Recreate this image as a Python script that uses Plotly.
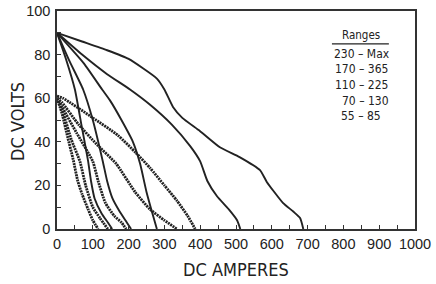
import plotly.graph_objects as go

# Solid curves (max settings) - amps, volts
s1_a = [0, 70, 140, 200, 279, 300, 324, 350, 399, 455, 510, 567, 586, 631, 660, 679, 688]
s1_v = [90, 86, 82, 78, 69, 64, 56, 51, 45, 37.5, 33, 27, 21.6, 12, 8, 5, 0]
s2_a = [0, 70, 140, 204, 260, 320, 372, 400, 420, 447, 480, 503, 512]
s2_v = [90, 80, 71, 64, 57, 48, 38, 31, 22, 15, 9, 4, 0]
s3_a = [0, 75, 126, 148, 180, 212, 232, 250, 265, 279]
s3_v = [90, 76, 64, 59, 50, 40, 30, 17, 8, 0]
s4_a = [0, 35, 73, 100, 128, 140, 155, 175, 195, 207]
s4_v = [90, 77, 64, 50, 31, 22, 14, 8, 3, 0]
s5_a = [0, 25, 50, 68, 87, 95, 105, 125, 142, 154]
s5_v = [90, 78, 64, 48, 31, 22, 14, 7, 3, 0]

# Dotted curves (min settings)
d1_a = [0, 14, 30, 45, 58, 70, 87, 100, 115]
d1_v = [60, 53, 42, 32, 22, 16, 9, 4, 0]
d2_a = [0, 14, 40, 64, 80, 100, 120, 142]
d2_v = [60, 55, 41, 31, 20, 10, 5, 0]
d3_a = [0, 14, 55, 100, 115, 135, 160, 180, 193]
d3_v = [60, 56, 44, 31, 22, 12, 6, 3, 0]
d4_a = [0, 14, 60, 110, 165, 218, 260, 300, 335]
d4_v = [60, 58, 48, 39, 30, 17, 9, 4, 0]
d5_a = [0, 17, 100, 170, 220, 260, 300, 335, 365, 386]
d5_v = [61, 60, 51, 43, 35, 28, 20, 13, 6, 0]

range_labels = ["230 – Max", "170 – 365", "110 – 225", "70 – 130", "55 – 85"]
x_ticks = list(range(0, 1001, 100))
y_ticks = list(range(0, 101, 20))

NARROW = "DejaVu Sans Condensed, Liberation Sans Narrow, sans-serif"
REG = "Liberation Sans, Arial, sans-serif"
INK = "#222222"

fig = go.Figure()
for a, v in [(s1_a, s1_v), (s2_a, s2_v), (s3_a, s3_v), (s4_a, s4_v), (s5_a, s5_v)]:
    fig.add_trace(go.Scatter(x=a, y=v, mode="lines", line=dict(color=INK, width=1.9, shape="spline", smoothing=0.5),
                             showlegend=False, hoverinfo="skip"))
for a, v in [(d1_a, d1_v), (d2_a, d2_v), (d3_a, d3_v), (d4_a, d4_v), (d5_a, d5_v)]:
    fig.add_trace(go.Scatter(x=a, y=v, mode="lines", line=dict(color=INK, width=2.8, dash="2px,0.8px", shape="spline", smoothing=0.5),
                             showlegend=False, hoverinfo="skip"))

# Legend-like annotation
fig.add_annotation(x=849, y=89, text="Ranges", showarrow=False, xref="x", yref="y",
                   font=dict(family=NARROW, size=11.5, color=INK))
fig.add_shape(type="line", x0=768, x1=927, y0=84.9, y1=84.9, xref="x", yref="y",
              line=dict(color=INK, width=1.2))
label_x = [768, 771, 771, 790, 788]
label_y = [80.3, 73.2, 66.1, 58.9, 51.8]
for t, lx, ly in zip(range_labels, label_x, label_y):
    fig.add_annotation(x=lx, y=ly, text=t, showarrow=False, xref="x", yref="y", xanchor="left",
                       font=dict(family=NARROW, size=12, color=INK))

# Axis titles
fig.add_annotation(x=0.5, y=-0.188, xref="paper", yref="paper", text="DC AMPERES", showarrow=False,
                   xanchor="center", yanchor="middle", font=dict(family=NARROW, size=18, color=INK))
fig.add_annotation(x=-0.112, y=0.495, xref="paper", yref="paper", text="DC VOLTS", showarrow=False,
                   textangle=-90, xanchor="center", yanchor="middle", font=dict(family=NARROW, size=18, color=INK))

axis_common = dict(showline=True, linecolor="#333333", linewidth=1.5, mirror=True, ticks="inside",
                   ticklen=4, tickcolor="#333333", showgrid=False, zeroline=False, automargin=False,
                   tickfont=dict(family=REG, size=14.5, color=INK))
fig.update_xaxes(range=[0, 1000], tickvals=x_ticks, ticktext=[str(t) for t in x_ticks],
                 minor=dict(dtick=50, ticks="inside", ticklen=4, tickcolor="#333333"),
                 ticklabelstandoff=1, **axis_common)
fig.update_yaxes(range=[0, 100], tickvals=y_ticks, ticktext=[str(t) for t in y_ticks],
                 minor=dict(dtick=10, ticks="inside", ticklen=4, tickcolor="#333333"),
                 ticklabelstandoff=2, **axis_common)
fig.update_layout(width=436, height=284, margin=dict(l=57, r=21, t=11, b=55),
                  paper_bgcolor="white", plot_bgcolor="white")
fig.write_html("out.html", config={"displayModeBar": False},
               post_script="document.body.style.margin='0px';document.body.style.overflow='hidden';")
